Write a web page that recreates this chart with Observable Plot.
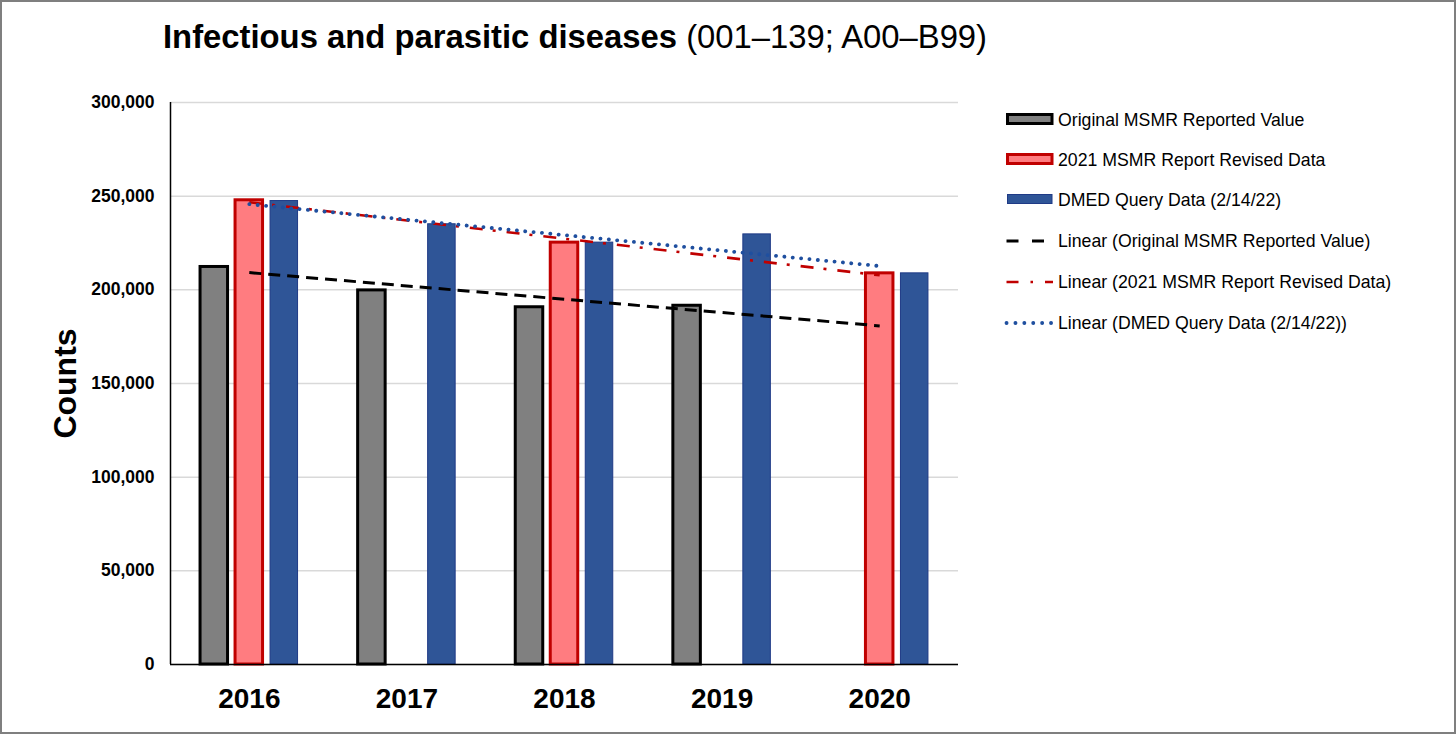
<!DOCTYPE html>
<html>
<head>
<meta charset="utf-8">
<script src="https://cdn.jsdelivr.net/npm/d3@7"></script>
<script src="https://cdn.jsdelivr.net/npm/@observablehq/plot@0.6"></script>
<style>
  body { margin: 0; background: #fff; font-family: "Liberation Sans", Arial, sans-serif; }
  #wrap { position: relative; width: 1456px; height: 734px; overflow: hidden; background: #fff; }
  #chart { position: absolute; left: 0; top: 0; }
  #overlay { position: absolute; left: 0; top: 0; }
  #frame { position: absolute; left: 0; top: 0; width: 1456px; height: 734px; box-sizing: border-box; border: 2px solid #7f7f7f; pointer-events: none; }
</style>
</head>
<body>
<div id="wrap">
  <div id="chart"></div>
  <div id="overlay"></div>
  <div id="frame"></div>
</div>
<script>
// ---- data ----
const years = [2016, 2017, 2018, 2019, 2020];
const seriesNames = ["Original MSMR Reported Value", "2021 MSMR Report Revised Data", "DMED Query Data (2/14/22)"];
const originalValues = [212200, 199700, 190700, 191500, null];
const revisedValues  = [247800, null, 225200, null, 208800];
const dmedValues     = [247400, 235000, 225200, 229600, 208800];
const yTicks = [0, 50000, 100000, 150000, 200000, 250000, 300000];
const titleBold = "Infectious and parasitic diseases";
const titleRest = " (001–139; A00–B99)";
const yLabel = "Counts";
const trendNames = seriesNames.map(s => `Linear (${s})`);

// ---- styles ----
const barStyles = [
  {fill: "#808080", stroke: "#000000", strokeWidth: 3},
  {fill: "#ff7c80", stroke: "#c00000", strokeWidth: 3},
  {fill: "#2f5597", stroke: "#1f3a86", strokeWidth: 1}
];
const lineStyles = [
  {stroke: "#000000", strokeWidth: 3, strokeDasharray: "12,7", strokeLinecap: "butt"},
  {stroke: "#c00000", strokeWidth: 2.6, strokeDasharray: "13,10,3,11", strokeLinecap: "butt"},
  {stroke: "#1f4f9f", strokeWidth: 3.8, strokeDasharray: "0.1,8.3", strokeLinecap: "round"}
];
const legendLineDash = ["12,13.5", "12,12,2.5,12", "0.1,8.8"];

const seriesValues = [originalValues, revisedValues, dmedValues];
const pxPerYear = (958 - 170) / 5;
const halfW = 27.5 / pxPerYear / 2;
const offsets = [-35 / pxPerYear, 0, 35 / pxPerYear];

const bars = seriesValues.map((vals, s) =>
  years.map((year, i) => ({year, value: vals[i], s})).filter(d => d.value != null)
);

// least-squares trend (as Excel's linear trendline), extended across all categories
const trends = seriesValues.map((vals, s) => {
  const pts = years.map((y, i) => [y, vals[i]]).filter(p => p[1] != null);
  const mx = d3.mean(pts, p => p[0]), my = d3.mean(pts, p => p[1]);
  const b = d3.sum(pts, p => (p[0] - mx) * (p[1] - my)) / d3.sum(pts, p => (p[0] - mx) ** 2);
  const a = my - b * mx;
  return [years[0], years[years.length - 1]].map(year => ({year, value: a + b * year, s}));
});

const marks = [
  Plot.gridY(yTicks, {stroke: "#d9d9d9", strokeOpacity: 1, strokeWidth: 1.5}),
  ...bars.map((data, s) => Plot.rect(data, {
    x1: d => d.year + offsets[s] - halfW,
    x2: d => d.year + offsets[s] + halfW,
    y1: 0, y2: "value",
    ...barStyles[s]
  })),
  Plot.ruleY([0], {stroke: "#000", strokeWidth: 1.5}),
  Plot.ruleX([2015.5], {y1: 0, y2: 300000, stroke: "#000", strokeWidth: 1.5}),
  ...trends.map((data, s) => Plot.line(data, {x: "year", y: "value", ...lineStyles[s]})),
  Plot.axisX({ticks: years, tickFormat: d => String(d), tickSize: 0, tickPadding: 24, fontSize: 28, fontWeight: "bold", label: null}),
  Plot.axisY({ticks: yTicks, tickFormat: d3.format(","), tickSize: 0, tickPadding: 16, fontSize: 17.5, fontWeight: "bold", label: null}),
  Plot.text([yLabel], {text: d => d, frameAnchor: "left", textAnchor: "middle", lineAnchor: "middle", dx: -105, rotate: -90, fontSize: 32, fontWeight: "bold", fill: "#000"})
];

const chart = Plot.plot({
  width: 980,
  height: 734,
  marginTop: 102,
  marginBottom: 70,
  marginLeft: 170,
  marginRight: 22,
  style: {fontFamily: "'Liberation Sans', Arial, sans-serif", color: "#000", background: "transparent"},
  x: {type: "linear", domain: [2015.5, 2020.5]},
  y: {domain: [0, 300000]},
  marks
});
document.getElementById("chart").appendChild(chart);

// ---- title & legend ----
const svg = d3.select("#overlay").append("svg")
  .attr("width", 1456).attr("height", 734)
  .style("font-family", "'Liberation Sans', Arial, sans-serif");

const t = svg.append("text").attr("x", 163).attr("y", 48).attr("font-size", 32.8).attr("fill", "#000");
t.append("tspan").attr("font-weight", "bold").text(titleBold);
t.append("tspan").attr("font-weight", "normal").text(titleRest);

const baselines = [126, 166, 206, 247, 288, 329];
const legendItems = [
  ...seriesNames.map((name, s) => ({name, kind: "bar", s})),
  ...trendNames.map((name, s) => ({name, kind: "line", s}))
];
legendItems.forEach((item, k) => {
  const by = baselines[k];
  const g = svg.append("g");
  if (item.kind === "bar") {
    const st = barStyles[item.s];
    g.append("rect").attr("x", 1007.5).attr("y", by - 11.5).attr("width", 44.5).attr("height", 9)
      .attr("fill", st.fill).attr("stroke", st.stroke).attr("stroke-width", st.strokeWidth);
  } else {
    const st = lineStyles[item.s];
    g.append("line").attr("x1", 1006.5).attr("x2", item.s === 0 ? 1044 : 1053).attr("y1", by - 6).attr("y2", by - 6)
      .attr("stroke", st.stroke).attr("stroke-width", st.strokeWidth)
      .attr("stroke-dasharray", legendLineDash[item.s]).attr("stroke-linecap", st.strokeLinecap);
  }
  g.append("text").attr("x", 1058).attr("y", by).attr("font-size", 17.7).attr("fill", "#000").text(item.name);
});
</script>
</body>
</html>
